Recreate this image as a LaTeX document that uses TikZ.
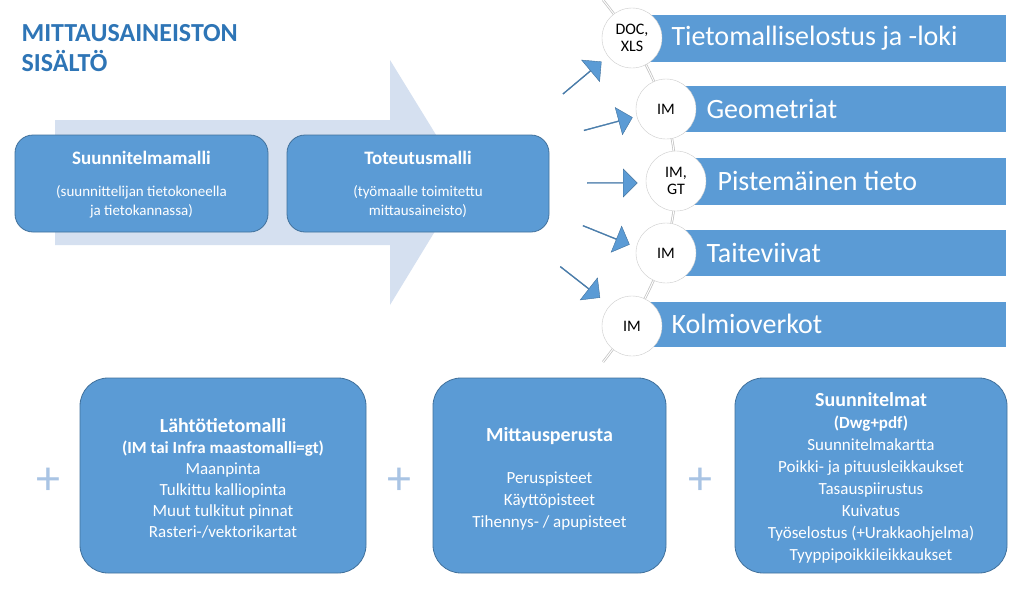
\documentclass[tikz,border=0pt]{standalone}
\usepackage{fontspec}
\setmainfont{Carlito}
\usetikzlibrary{shapes.arrows}
\definecolor{mblue}{HTML}{5B9BD5}
\definecolor{dblue}{HTML}{41719C}
\definecolor{lblue}{HTML}{D5E0F0}
\definecolor{tblue}{HTML}{2E75B6}
\definecolor{pblue}{HTML}{A9C4E4}
\begin{document}
\begin{tikzpicture}[x=1pt,y=-1pt,
  rbox/.style={draw=dblue,fill=mblue,rounded corners=18pt,line width=0.8pt,text=white,align=center,inner sep=0pt},
  bar/.style={fill=mblue,inner sep=0pt},
  circ/.style={circle,draw=gray!40,fill=white,minimum size=60pt,inner sep=0pt,align=center,font=\fontsize{16}{17}\selectfont},
  bartxt/.style={text=white,anchor=west,font=\fontsize{28}{30}\selectfont},
  sarrow/.style={single arrow,fill=mblue,draw=dblue,line width=0.4pt,minimum height=50pt,minimum width=28pt,single arrow head extend=6pt,inner sep=0pt,single arrow head indent=0pt},
  plus/.style={text=pblue,font=\fontsize{48}{48}\selectfont}]
\useasboundingbox (0,0) rectangle (1024,589);
\fill[white] (0,0) rectangle (1024,589);
% title
\node[anchor=west,text=tblue,font=\fontsize{26}{30}\bfseries\selectfont,align=left] (title) at (18,48) {MITTAUSAINEISTON\\SISÄLTÖ};
% big arrow
\fill[lblue] (55,120) -- (390,120) -- (390,60) -- (465,182) -- (390,305) -- (390,245) -- (55,245) -- cycle;
\node[rbox,minimum width=253pt,minimum height=97pt] (sm) at (141.5,183.5) {};
\node[text=white,font=\fontsize{19}{22}\bfseries\selectfont] (smt) at (141.5,158) {Suunnitelmamalli};
\node[text=white,align=center,font=\fontsize{15}{19}\selectfont] (sms) at (141.5,202) {(suunnittelijan tietokoneella\\ja tietokannassa)};
\node[rbox,minimum width=262pt,minimum height=97pt] (tm) at (418,183.5) {};
\node[text=white,font=\fontsize{19}{22}\bfseries\selectfont] (tmt) at (418,158) {Toteutusmalli};
\node[text=white,align=center,font=\fontsize{15}{19}\selectfont] (tms) at (418,202) {(työmaalle toimitettu\\mittausaineisto)};
% bars
\node[bar,minimum width=374pt,minimum height=47pt] (b1) at (819,38) {};
\node[bar,minimum width=340pt,minimum height=46pt] (b2) at (836,109) {};
\node[bar,minimum width=330pt,minimum height=47pt] (b3) at (841,181.5) {};
\node[bar,minimum width=340pt,minimum height=46pt] (b4) at (836,253) {};
\node[bar,minimum width=374pt,minimum height=45pt] (b5) at (819,324.5) {};
% curve
\coordinate (ct) at (603,0);
\coordinate (cb) at (603,362);
\draw[gray!50,line width=2.4pt] (ct) .. controls (700,120) and (700,240) .. (cb);
\draw[white,line width=1pt] (ct) .. controls (700,120) and (700,240) .. (cb);
\node[circ] (c1) at (632,38) {DOC,\\XLS};
\node[circ] (c2) at (666,109) {IM};
\node[circ] (c3) at (676,181) {IM,\\GT};
\node[circ] (c4) at (666,253) {IM};
\node[circ] (c5) at (632,326) {IM};
\node[bartxt] (t1) at (668,38) {Tietomalliselostus ja -loki};
\node[bartxt] (t2) at (703,109) {Geometriat};
\node[bartxt] (t3) at (714,181) {Pistemäinen tieto};
\node[bartxt] (t4) at (703,253) {Taiteviivat};
\node[bartxt] (t5) at (668,324) {Kolmioverkot};
% small arrows
\node[sarrow,rotate=40] (a1) at (582,78) {};
\node[sarrow,rotate=15] (a2) at (608,124) {};
\node[sarrow] (a3) at (612,183) {};
\node[sarrow,rotate=-22] (a4) at (606,235) {};
\node[sarrow,rotate=-38] (a5) at (580,282) {};
% bottom boxes
\node[rbox,minimum width=286pt,minimum height=195pt,rounded corners=28pt] (la) at (223,475.5) {};
\node[text=white,align=center,font=\fontsize{17}{21}\selectfont] (lat) at (223,478) {{\fontsize{20}{24}\bfseries\selectfont Lähtötietomalli}\\{\bfseries (IM tai Infra maastomalli=gt)}\\Maanpinta\\Tulkittu kalliopinta\\Muut tulkitut pinnat\\Rasteri-/vektorikartat};
\node[rbox,minimum width=233pt,minimum height=195pt,rounded corners=28pt] (mp) at (549.5,475.5) {};
\node[text=white,font=\fontsize{20}{24}\bfseries\selectfont] (mpt) at (549.5,436) {Mittausperusta};
\node[text=white,align=center,font=\fontsize{17}{22}\selectfont] (mps) at (549.5,501) {Peruspisteet\\Käyttöpisteet\\Tihennys- / apupisteet};
\node[rbox,minimum width=272pt,minimum height=195pt,rounded corners=28pt] (sn) at (871,475.5) {};
\node[text=white,align=center,font=\fontsize{17}{22}\selectfont] (snt) at (871,478) {{\fontsize{20}{24}\bfseries\selectfont Suunnitelmat}\\{\bfseries (Dwg+pdf)}\\Suunnitelmakartta\\Poikki- ja pituusleikkaukset\\Tasauspiirustus\\Kuivatus\\Työselostus (+Urakkaohjelma)\\Tyyppipoikkileikkaukset};
\node[plus] (p1) at (48,481) {+};
\node[plus] (p2) at (399,481) {+};
\node[plus] (p3) at (700,481) {+};
\end{tikzpicture}
\end{document}
